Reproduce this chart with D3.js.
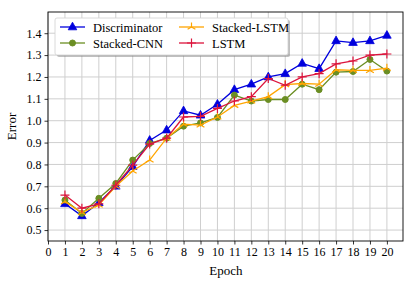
<!DOCTYPE html>
<html>
<head>
<meta charset="utf-8">
<script src="https://cdn.jsdelivr.net/npm/d3@7"></script>
<style>
  body { margin: 0; background: #fff; }
  svg { display: block; font-family: "Liberation Serif", "DejaVu Serif", serif; }
</style>
</head>
<body>
<svg id="chart" width="415" height="286"></svg>
<script>
var epochs = [1, 2, 3, 4, 5, 6, 7, 8, 9, 10, 11, 12, 13, 14, 15, 16, 17, 18, 19, 20];
var discriminator = [0.62, 0.565, 0.625, 0.70, 0.79, 0.91, 0.957, 1.045, 1.025, 1.075, 1.142, 1.167, 1.20, 1.215, 1.262, 1.238, 1.365, 1.357, 1.365, 1.39];
var stackedCnn = [0.637, 0.576, 0.645, 0.713, 0.82, 0.896, 0.92, 0.975, 0.99, 1.015, 1.117, 1.09, 1.097, 1.097, 1.167, 1.142, 1.222, 1.225, 1.28, 1.227];
var stackedLstm = [0.63, 0.58, 0.615, 0.70, 0.77, 0.82, 0.92, 0.984, 0.98, 1.017, 1.07, 1.09, 1.11, 1.165, 1.17, 1.167, 1.233, 1.23, 1.23, 1.24];
var lstm = [0.66, 0.60, 0.62, 0.705, 0.797, 0.893, 0.92, 1.017, 1.02, 1.056, 1.09, 1.11, 1.193, 1.162, 1.20, 1.215, 1.26, 1.273, 1.30, 1.305];
var xTicks = d3.range(0, 21);
var yTicks = [0.5, 0.6, 0.7, 0.8, 0.9, 1.0, 1.1, 1.2, 1.3, 1.4];

var series = [
  { name: 'Discriminator', values: discriminator, color: '#0000dd', marker: 'triangle' },
  { name: 'Stacked-CNN', values: stackedCnn, color: '#6b8e23', marker: 'circle' },
  { name: 'Stacked-LSTM', values: stackedLstm, color: '#ffa500', marker: 'tri' },
  { name: 'LSTM', values: lstm, color: '#dc143c', marker: 'plus' }
];

var margin = { top: 12, right: 12, bottom: 45, left: 48 };
var svg = d3.select('#chart');
var width = +svg.attr('width') - margin.left - margin.right;
var height = +svg.attr('height') - margin.top - margin.bottom;

var x = d3.scaleLinear().domain([0, 20.95]).range([0, width]);
var y = d3.scaleLinear().domain([0.45, 1.497]).range([height, 0]);

var g = svg.append('g').attr('transform', `translate(${margin.left},${margin.top})`);

// grid
g.append('g').selectAll('line').data(xTicks).enter().append('line')
  .attr('x1', d => x(d)).attr('x2', d => x(d))
  .attr('y1', 0).attr('y2', height)
  .attr('stroke', '#cfcfcf').attr('stroke-width', 1);
g.append('g').selectAll('line').data(yTicks).enter().append('line')
  .attr('x1', 0).attr('x2', width)
  .attr('y1', d => y(d)).attr('y2', d => y(d))
  .attr('stroke', '#cfcfcf').attr('stroke-width', 1);

// axes
var xAxis = g.append('g').attr('transform', `translate(0,${height})`)
  .call(d3.axisBottom(x).tickValues(xTicks).tickFormat(d3.format('d')).tickSize(3.5).tickPadding(3));
var yAxis = g.append('g')
  .call(d3.axisLeft(y).tickValues(yTicks).tickFormat(d3.format('.1f')).tickSize(3.5).tickPadding(3));
[xAxis, yAxis].forEach(function(a) {
  a.select('.domain').remove();
  a.selectAll('text').attr('font-size', 12).attr('fill', '#000').attr('font-family', '"Liberation Serif", serif');
  a.selectAll('line').attr('stroke', '#000').attr('stroke-width', 0.8);
});

g.append('rect').attr('width', width).attr('height', height)
  .attr('fill', 'none').attr('stroke', '#000').attr('stroke-width', 0.9);

function drawMarker(sel, type, color) {
  if (type === 'triangle') {
    sel.append('path').attr('d', 'M0,-4.8L4.3,2.8L-4.3,2.8Z').attr('fill', color).attr('stroke', color).attr('stroke-width', 0.8);
  } else if (type === 'circle') {
    sel.append('circle').attr('r', 3).attr('fill', color).attr('stroke', color);
  } else if (type === 'tri') {
    sel.append('path').attr('d', 'M0,0L0,-4.5M0,0L3.9,2.25M0,0L-3.9,2.25').attr('stroke', color).attr('stroke-width', 1.2).attr('fill', 'none');
  } else {
    sel.append('path').attr('d', 'M-4.5,0H4.5M0,-4.5V4.5').attr('stroke', color).attr('stroke-width', 1.2).attr('fill', 'none');
  }
}

var line = d3.line().x((d, i) => x(epochs[i])).y(d => y(d));

series.forEach(function(s) {
  var sg = g.append('g');
  sg.append('path').datum(s.values).attr('d', line)
    .attr('fill', 'none').attr('stroke', s.color).attr('stroke-width', 1.3);
  sg.selectAll('g.m').data(s.values).enter().append('g').attr('class', 'm')
    .attr('transform', (d, i) => `translate(${x(epochs[i])},${y(d)})`)
    .each(function() { drawMarker(d3.select(this), s.marker, s.color); });
});

// legend
var leg = g.append('g').attr('transform', 'translate(7,6)');
leg.append('rect').attr('x', 2).attr('y', 2).attr('width', 233).attr('height', 37).attr('rx', 2)
  .attr('fill', '#808080').attr('opacity', 0.5);
leg.append('rect').attr('width', 233).attr('height', 37).attr('rx', 2)
  .attr('fill', '#fff').attr('stroke', '#d0d0d0').attr('stroke-width', 0.8);
var legPos = [[5, 9], [5, 25], [124, 9], [124, 25]];
series.forEach(function(s, i) {
  var p = legPos[i];
  var lg = leg.append('g').attr('transform', `translate(${p[0]},${p[1]})`);
  lg.append('line').attr('x1', 0).attr('x2', 25).attr('stroke', s.color).attr('stroke-width', 1.3);
  drawMarker(lg.append('g').attr('transform', 'translate(12.5,0)'), s.marker, s.color);
  lg.append('text').attr('x', 33).attr('y', 4.5).attr('font-size', 12.5).text(s.name);
});

// axis titles
svg.append('text').attr('x', margin.left + x(10.5)).attr('y', 275)
  .attr('text-anchor', 'middle').attr('font-size', 13).text('Epoch');
svg.append('text').attr('transform', `translate(16,${margin.top + height / 2}) rotate(-90)`)
  .attr('text-anchor', 'middle').attr('font-size', 13).text('Error');
</script>
</body>
</html>
